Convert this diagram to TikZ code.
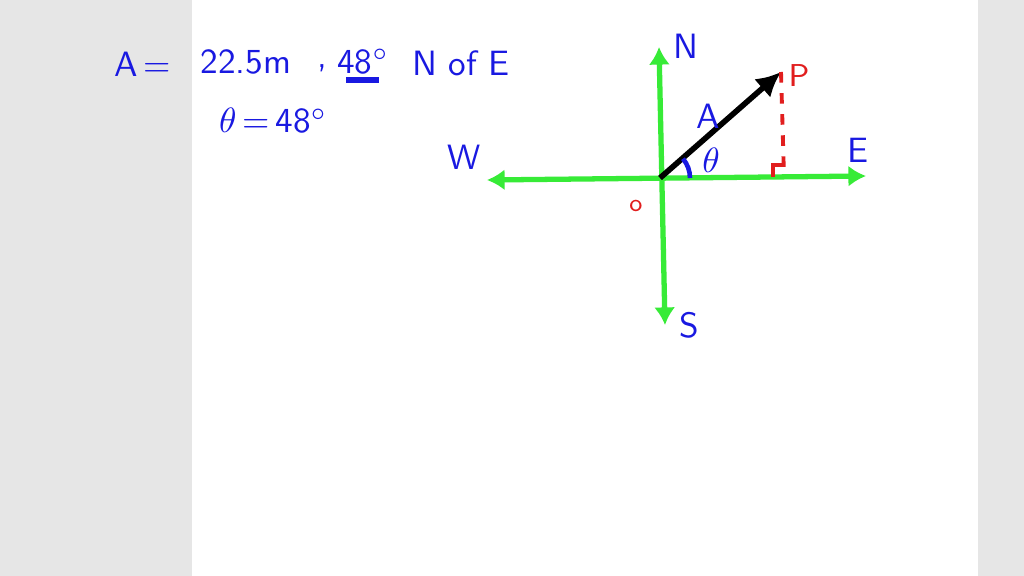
\documentclass[tikz,border=0pt]{standalone}
\usepackage{amsmath}
\usetikzlibrary{arrows.meta}
\definecolor{penblue}{RGB}{25,25,225}
\definecolor{pengreen}{RGB}{55,235,55}
\definecolor{penred}{RGB}{225,30,30}
\definecolor{sidegray}{RGB}{230,230,230}

\begin{document}
\begin{tikzpicture}[x=0.01cm,y=-0.01cm,
    axisline/.style={pengreen,line width=1.5pt,{Latex[length=5pt,width=6pt]}-{Latex[length=5pt,width=6pt]}},
    bluelabel/.style={penblue,font=\sffamily,inner sep=0pt},
    redlabel/.style={penred,font=\sffamily,inner sep=0pt}]
      % page with grey side bars
      \fill[sidegray] (0,0) rectangle (1024,576);
      \fill[white] (192,0) rectangle (978,576);
      \useasboundingbox (0,0) rectangle (1024,576);

      % given data
      \node[bluelabel] (lhs) at (143,64) {A\,=};
      \node[bluelabel] (mag) at (246,62) {22.5m};
      \node[bluelabel] (comma) at (322,68) {,};
      \node[bluelabel] (ang) at (363,62) {48$^\circ$};
      \draw[penblue,line width=1.6pt] (346,80) -- (379,80);
      \node[bluelabel] (dir) at (461,63) {N of E};
      \node[bluelabel] (theta) at (273,121) {$\theta$\,=\,48$^\circ$};

      % axes
      \coordinate (O) at (660,178);
      \coordinate (Nend) at (659,47);
      \coordinate (Send) at (665,325);
      \coordinate (Wend) at (487,180);
      \coordinate (Eend) at (866,176);
      \draw[axisline] (Wend) -- (Eend);
      \draw[axisline] (Nend) -- (Send);
      \node[bluelabel] (N) at (686,46) {N};
      \node[bluelabel] (S) at (689,325) {S};
      \node[bluelabel] (W) at (464,157) {W};
      \node[bluelabel] (E) at (858,150) {E};
      \node[redlabel,font=\scriptsize\sffamily] (o) at (636,206) {o};

      % vector A and projection
      \coordinate (P) at (781,72);
      \coordinate (F) at (784,177);
      \draw[line width=1.6pt,-{Latex[length=7pt,width=7pt]}] (O) -- (P);
      \draw[penred,line width=1.1pt,dashed] (P) -- (F);
      \draw[penred,line width=1.1pt] (773,177) -- (773,165) -- (784,165);
      \node[redlabel,font=\small\sffamily] (Plabel) at (799,76) {P};
      \node[bluelabel] (A) at (708,116) {A};
      \draw[penblue,line width=1.3pt] (O) ++(30,0) arc[start angle=0,end angle=-40,radius=30];
      \node[bluelabel] (th) at (711,160) {$\theta$};
    \end{tikzpicture}
\end{document}
